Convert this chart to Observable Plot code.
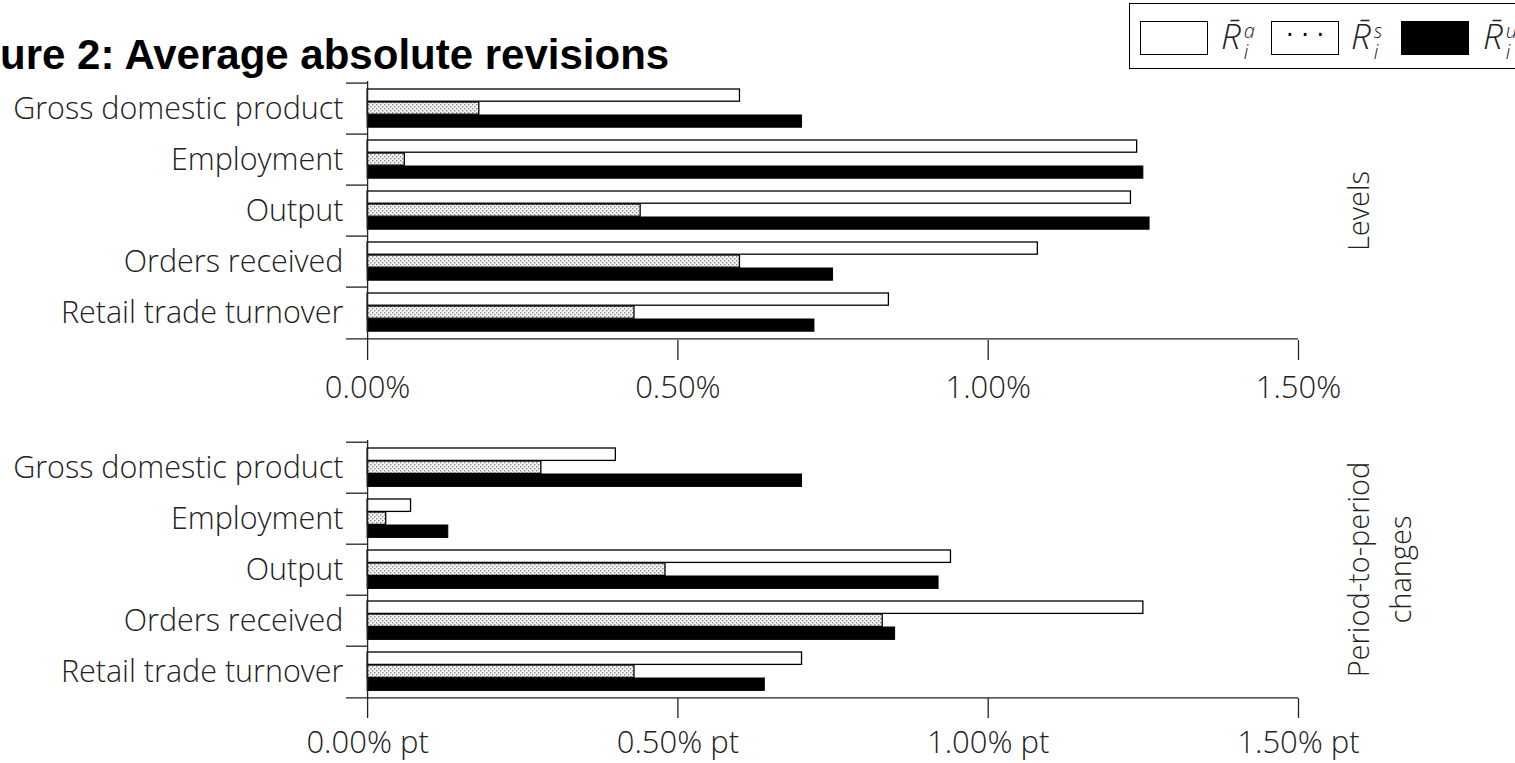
<!DOCTYPE html>
<html><head><meta charset="utf-8">
<script src="https://cdn.jsdelivr.net/npm/d3@7"></script>
<script src="https://cdn.jsdelivr.net/npm/@observablehq/plot@0.6"></script>
<style>
html,body{margin:0;padding:0;background:#fff;overflow:hidden}
#wrap{position:relative;width:1515px;height:763px;overflow:hidden;background:#fff}
#title{position:absolute;left:0;top:34px;font:bold 42px/1 "Liberation Sans",Arial,sans-serif;color:#000;white-space:nowrap}
#legend{position:absolute;left:1129px;top:3px;width:430px;height:66px;border:1.5px solid #000;box-sizing:border-box;background:#fff}
.sw{position:absolute;top:17px;width:68px;height:34px;box-sizing:border-box;border:1.5px solid #000;background:#fff;text-align:center;font:24px/26px "DejaVu Sans",sans-serif;color:#000}
.sym{position:absolute;top:12px;display:flex;align-items:flex-start;font-family:"Open Sans",sans-serif;font-style:italic;font-weight:300;color:#222}
.sym .R{font-size:35px;line-height:40px}
.sym .ss{display:flex;flex-direction:column;font-size:20px;line-height:21px;margin-left:3px;margin-top:4px}
.panel{position:absolute;left:0}
</style></head>
<body>
<svg width="0" height="0" style="position:absolute"><defs>
<pattern id="dots" width="4" height="4" patternUnits="userSpaceOnUse">
<rect width="4" height="4" fill="#f4f4f4"/>
<rect x="0" y="0" width="1.4" height="1.4" fill="#8c8c8c"/>
<rect x="2" y="2" width="1.4" height="1.4" fill="#8c8c8c"/>
</pattern></defs></svg>
<div id="wrap">
  <div id="title"></div>
  <div id="legend"></div>
  <div id="p1" class="panel"></div>
  <div id="p2" class="panel"></div>
</div>
<script>
// ---- data ----
const titleText = "ure 2: Average absolute revisions";
const categories = ["Gross domestic product", "Employment", "Output", "Orders received", "Retail trade turnover"];
const legendKeys = ["a", "s", "u"];
// Levels panel (%)
const levelsA = [0.60, 1.24, 1.23, 1.08, 0.84];
const levelsS = [0.18, 0.06, 0.44, 0.60, 0.43];
const levelsU = [0.70, 1.25, 1.26, 0.75, 0.72];
// Period-to-period changes panel (% pt)
const changesA = [0.40, 0.07, 0.94, 1.25, 0.70];
const changesS = [0.28, 0.03, 0.48, 0.83, 0.43];
const changesU = [0.70, 0.13, 0.92, 0.85, 0.64];
const xTicks = [0, 0.5, 1.0, 1.5];
const tickSuffixes = ["%", "% pt"];
const panelLabels = ["Levels", "Period-to-period\nchanges"];

// ---- title & legend ----
document.getElementById("title").textContent = titleText;
const legend = document.getElementById("legend");
const swLeft = [10, 141, 271];
const symLeft = [91, 221, 353];
const swStyle = [
  {bg: "#fff", txt: ""},
  {bg: "#fff", txt: "· · ·"},
  {bg: "#000", txt: ""}
];
legendKeys.forEach((k, i) => {
  const sw = document.createElement("div");
  sw.className = "sw";
  sw.style.left = swLeft[i] + "px";
  sw.style.background = swStyle[i].bg;
  sw.textContent = swStyle[i].txt;
  legend.appendChild(sw);
  const sym = document.createElement("div");
  sym.className = "sym";
  sym.style.left = symLeft[i] + "px";
  sym.innerHTML = `<span class="R">R\u0304</span><span class="ss"><span>${k}</span><span>i</span></span>`;
  legend.appendChild(sym);
});

// ---- panels ----
const X0 = -0.034;
function panel(valsA, valsS, valsU, suffix, label, lay) {
  const rows = categories.map((c, i) => ({cat: c, a: valsA[i], s: valsS[i], u: valsU[i]}));
  const bw = (lay.height - lay.marginTop - lay.marginBottom) / categories.length;
  return Plot.plot({
    width: 1515,
    height: lay.height,
    marginLeft: 346,
    marginRight: 217,
    marginTop: lay.marginTop,
    marginBottom: lay.marginBottom,
    x: {domain: [X0, 1.5], axis: null},
    y: {domain: categories, padding: 0, axis: null},
    style: {fontFamily: "'Open Sans', sans-serif", color: "#222", background: "transparent", overflow: "visible"},
    marks: [
      Plot.barX(rows, {y: "cat", x1: 0, x2: "a", fill: "white", stroke: "#000", strokeWidth: 1.3, insetTop: 6, insetBottom: bw - 19}),
      Plot.barX(rows, {y: "cat", x1: 0, x2: "s", fill: "url(#dots)", stroke: "#000", strokeWidth: 1.3, insetTop: 19, insetBottom: bw - 32}),
      Plot.barX(rows, {y: "cat", x1: 0, x2: "u", fill: "#000", stroke: "#000", strokeWidth: 1, insetTop: 32, insetBottom: bw - 45}),
      Plot.ruleX([0], {stroke: "#222", strokeWidth: 1.3}),
      Plot.ruleY(categories, {y: d => d, x1: X0, x2: 0, dy: -bw / 2, stroke: "#222", strokeWidth: 1.3}),
      Plot.ruleY([categories[categories.length - 1]], {y: d => d, x1: X0, x2: 1.5, dy: bw / 2, stroke: "#222", strokeWidth: 1.3}),
      Plot.axisX(xTicks, {tickSize: 20, tickPadding: lay.tickPadding, fontSize: 31, fontWeight: 300, label: null, tickFormat: d => d.toFixed(2) + suffix, stroke: "#222", strokeWidth: 1.3}),
      Plot.axisY({tickSize: 0, tickPadding: 3, fontSize: 30.5, fontWeight: 300, label: null}),
      Plot.text([label], {frameAnchor: "right", rotate: -90, dx: lay.labelDx, fontSize: 29, fontWeight: 300, lineHeight: 1.45, textAnchor: "middle", lineAnchor: "middle", fill: "#222"})
    ]
  });
}

const p1 = panel(levelsA, levelsS, levelsU, tickSuffixes[0], panelLabels[0],
  {height: 410, marginTop: 81, marginBottom: 70, labelDx: 57, tickPadding: 15});
const p2 = panel(changesA, changesS, changesU, tickSuffixes[1], panelLabels[1],
  {height: 353, marginTop: 30, marginBottom: 65, labelDx: 78, tickPadding: 12});
const d1 = document.getElementById("p1"); d1.style.top = "0px"; d1.appendChild(p1);
const d2 = document.getElementById("p2"); d2.style.top = "410px"; d2.appendChild(p2);
</script>
</body></html>
